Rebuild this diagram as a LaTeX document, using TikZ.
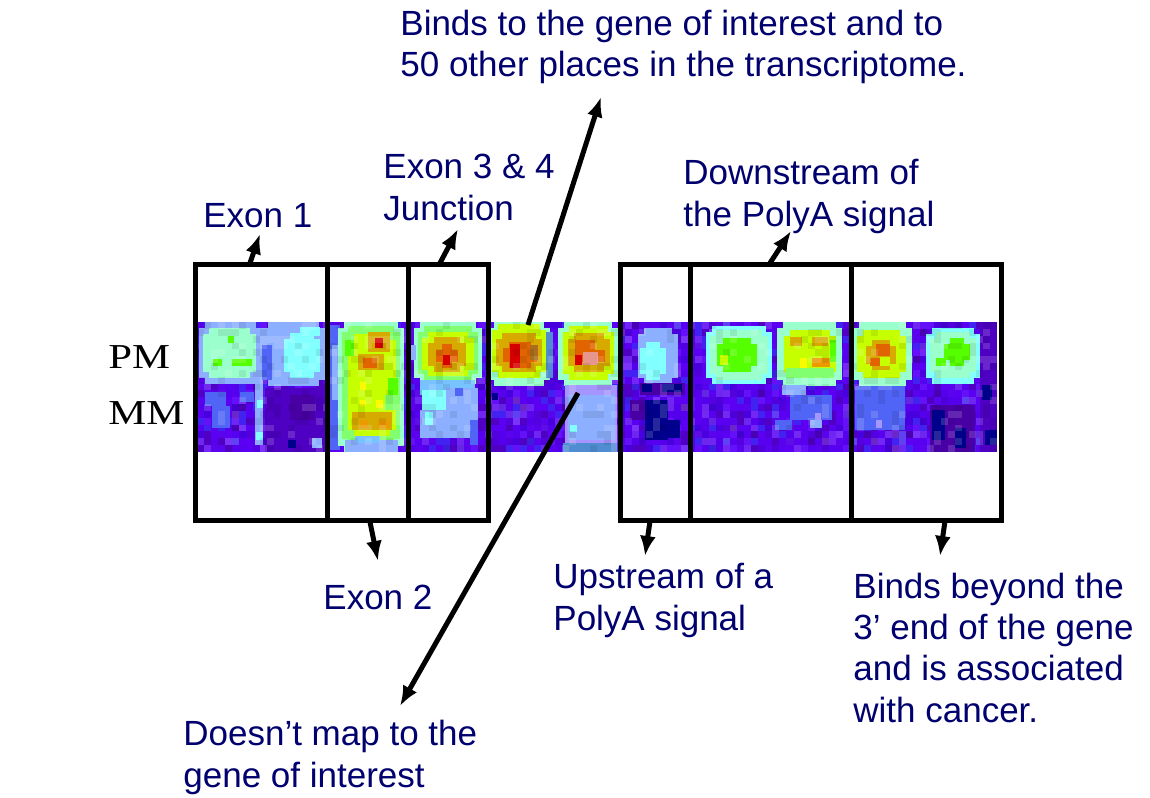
\documentclass[tikz,border=0pt]{standalone}
\usepackage{fontspec}
\setmainfont{Liberation Sans}
\newfontfamily\pmfont[FakeStretch=1.22]{Liberation Serif}
\usetikzlibrary{arrows.meta}
\definecolor{txt}{RGB}{0,0,110}
\definecolor{hc1}{RGB}{88,0,240}
\definecolor{hc2}{RGB}{88,0,240}
\definecolor{hc3}{RGB}{90,4,238}
\definecolor{hc4}{RGB}{84,0,236}
\definecolor{hc5}{RGB}{72,0,222}
\definecolor{hc6}{RGB}{100,16,248}
\definecolor{hc7}{RGB}{66,34,240}
\definecolor{hc8}{RGB}{80,0,195}
\definecolor{hc9}{RGB}{92,0,244}
\definecolor{vioD}{RGB}{78,0,195}
\definecolor{dkv}{RGB}{72,0,165}
\definecolor{navy}{RGB}{0,0,140}
\definecolor{mblue}{RGB}{80,100,245}
\definecolor{peri}{RGB}{140,175,255}
\definecolor{lblu}{RGB}{120,195,255}
\definecolor{lav}{RGB}{165,150,255}
\definecolor{cyn}{RGB}{130,255,255}
\definecolor{mint}{RGB}{155,255,205}
\definecolor{lgrn}{RGB}{130,255,110}
\definecolor{grn}{RGB}{85,255,0}
\definecolor{ygrn}{RGB}{198,255,0}
\definecolor{yel}{RGB}{250,250,0}
\definecolor{gold}{RGB}{215,170,0}
\definecolor{orng}{RGB}{225,100,0}
\definecolor{orng2}{RGB}{235,155,0}
\definecolor{hred}{RGB}{215,0,0}
\definecolor{olv}{RGB}{170,110,30}
\definecolor{pink}{RGB}{230,150,140}
\definecolor{stl}{RGB}{80,140,210}
\newcommand\hp[5]{\fill[#1] (#2,#3) rectangle (#4,#5);}
\newcommand\hblob[5]{\fill[#1] ({#2+6},#3) rectangle ({#4-6},#5);\fill[#1] (#2,{#3+6}) rectangle (#4,{#5-6});}
\tikzset{
  lbl/.style={anchor=base west, align=left, inner sep=0pt, text=txt,
    font=\fontsize{17.5}{20.6}\selectfont},
  pmlbl/.style={anchor=base west, inner sep=0pt, font=\pmfont\fontsize{17.5}{20}\selectfont},
  frame/.style={draw=black, line width=2.5pt},
  arr/.style={draw=black, line width=2.5pt, -{Latex[length=10pt,width=8pt]}},
}
\begin{document}
\begin{tikzpicture}[x=0.5pt,y=-0.5pt]
\useasboundingbox (0,0) rectangle (1150,797);
% ---------- heat map background noise ----------
\pgfmathsetseed{11}
\foreach \i in {0,...,113}{\foreach \j in {0,...,18}{%
  \pgfmathrandominteger{\r}{1}{9}%
  \fill[hc\r] ({197+\i*7.0175},{322+\j*6.8421}) rectangle ++(7.1,6.95);
}}
% ---------- spot A ----------
\hblob{peri}{199}{322}{262}{384}
\hblob{mint}{203}{328}{256}{378}
\hp{grn}{213}{359}{222}{366}
\hp{grn}{232}{359}{252}{366}
\hp{grn}{228}{336}{234}{343}
\hp{mblue}{205}{392}{226}{406}
\hp{mblue}{212}{406}{230}{428}
\hp{mblue}{240}{392}{254}{402}
\hp{peri}{255}{378}{263}{445}
\hp{cyn}{257}{400}{263}{408}
\hp{cyn}{256}{432}{263}{440}
% ---------- spot B ----------
\hblob{peri}{262}{322}{325}{386}
\hblob{cyn}{284}{333}{320}{378}
\hp{cyn}{300}{327}{320}{336}
\hp{mblue}{262}{345}{272}{380}
\hp{vioD}{265}{388}{325}{452}
\hp{dkv}{290}{395}{315}{420}
\hp{navy}{288}{440}{296}{448}
\hp{peri}{312}{438}{322}{448}
% ---------- exon 2 ----------
\hp{mblue}{329}{325}{340}{450}
\hp{peri}{332}{345}{340}{400}
\hblob{mint}{338}{322}{404}{452}
\hblob{lgrn}{342}{326}{400}{445}
\hblob{ygrn}{348}{334}{396}{436}
\hp{grn}{345}{340}{354}{356}
\hp{grn}{388}{378}{398}{395}
\hp{lgrn}{385}{395}{398}{410}
\hp{gold}{368}{332}{390}{352}
\hp{hred}{375}{338}{383}{348}
\hp{gold}{358}{354}{384}{370}
\hp{orng}{363}{358}{377}{368}
\hp{yel}{360}{382}{366}{390}
\hp{yel}{376}{400}{383}{408}
\hp{yel}{360}{400}{366}{406}
\hp{gold}{352}{412}{392}{430}
\hp{orng2}{360}{420}{368}{428}
\hp{orng2}{378}{420}{390}{428}
\hp{peri}{345}{440}{398}{452}
\hp{lblu}{355}{436}{380}{443}
% ---------- exon 3&4 ----------
\hblob{mint}{414}{322}{482}{384}
\hblob{lgrn}{418}{326}{478}{380}
\hblob{ygrn}{422}{332}{474}{376}
\hblob{gold}{428}{337}{466}{372}
\hblob{orng}{436}{344}{458}{368}
\hp{hred}{443}{355}{450}{365}
\hp{peri}{410}{345}{416}{360}
\hp{lblu}{420}{380}{475}{395}
\hp{cyn}{422}{390}{448}{410}
\hp{peri}{446}{388}{478}{420}
\hp{mblue}{455}{388}{463}{396}
\hp{peri}{420}{410}{470}{438}
\hp{cyn}{425}{412}{433}{425}
\hp{mblue}{470}{420}{478}{445}
% ---------- spot 5 ----------
\hblob{mint}{488}{322}{550}{386}
\hblob{ygrn}{492}{324}{546}{378}
\hblob{gold}{496}{333}{542}{372}
\hblob{orng}{503}{342}{537}{368}
\hp{hred}{510}{344}{520}{368}
\hp{olv}{530}{345}{538}{360}
\hp{stl}{546}{332}{553}{378}
\hp{navy}{492}{393}{498}{400}
% ---------- spot 6 ----------
\hblob{mint}{558}{322}{618}{386}
\hblob{ygrn}{563}{326}{614}{380}
\hblob{gold}{568}{333}{610}{372}
\hp{orng}{575}{340}{605}{362}
\hp{hred}{575}{355}{582}{365}
\hp{pink}{583}{352}{598}{365}
\hp{gold}{595}{340}{605}{350}
\hp{lav}{565}{385}{617}{445}
\hp{peri}{568}{395}{615}{440}
\hp{cyn}{570}{425}{577}{432}
\hp{stl}{563}{443}{617}{452}
% ---------- spot 7 ----------
\hblob{peri}{638}{328}{678}{384}
\hblob{cyn}{640}{342}{666}{380}
\hp{dkv}{640}{383}{685}{395}
\hp{navy}{642}{384}{652}{392}
\hp{navy}{662}{384}{682}{392}
\hp{navy}{645}{400}{668}{440}
\hp{navy}{668}{420}{680}{438}
\hp{dkv}{630}{400}{645}{420}
% ---------- spot 8 ----------
\hblob{cyn}{706}{326}{772}{384}
\hblob{mint}{710}{330}{768}{380}
\hblob{grn}{717}{338}{757}{372}
\hp{ygrn}{720}{355}{728}{365}
% ---------- spot 9 ----------
\hblob{mint}{777}{322}{842}{386}
\hblob{ygrn}{784}{330}{836}{378}
\hp{lgrn}{786}{368}{834}{378}
\hp{gold}{790}{337}{802}{346}
\hp{gold}{812}{337}{828}{346}
\hp{orng2}{812}{358}{830}{367}
\hp{yel}{800}{358}{807}{368}
\hp{grn}{830}{340}{836}{362}
\hp{peri}{782}{385}{806}{395}
\hp{mblue}{790}{395}{832}{420}
\hp{mblue}{775}{420}{792}{430}
\hp{peri}{810}{420}{822}{428}
\hp{lav}{815}{413}{821}{420}
% ---------- spot 10 ----------
\hblob{mint}{853}{322}{912}{386}
\hblob{ygrn}{857}{330}{906}{378}
\hblob{gold}{866}{340}{896}{370}
\hp{orng}{876}{344}{890}{356}
\hp{orng}{870}{358}{880}{366}
\hp{ygrn}{880}{357}{890}{366}
\hp{mblue}{855}{386}{905}{430}
\hp{lav}{876}{420}{882}{428}
% ---------- spot 11 ----------
\hblob{cyn}{926}{328}{980}{384}
\hblob{mint}{930}{332}{976}{378}
\hblob{grn}{944}{338}{970}{366}
\hp{grn}{936}{358}{946}{366}
\hp{vioD}{980}{322}{997}{452}
\hp{navy}{982}{385}{992}{400}
\hp{navy}{985}{430}{997}{445}
\hp{dkv}{930}{405}{975}{452}
\hp{navy}{932}{410}{945}{440}
\hp{navy}{955}{428}{966}{448}
% ---------- pixel texture over the whole map ----------
\pgfmathsetseed{5}
\foreach \i in {0,...,113}{\foreach \j in {0,...,18}{%
  \pgfmathrandominteger{\r}{1}{7}%
  \ifnum\r=1 \fill[white,opacity=0.15] ({197+\i*7.0175},{322+\j*6.8421}) rectangle ++(7.02,6.84);\fi
  \ifnum\r=2 \fill[black,opacity=0.08] ({197+\i*7.0175},{322+\j*6.8421}) rectangle ++(7.02,6.84);\fi
}}
% ---------- frames ----------
\draw[frame] (195.5,264) rectangle (488,520);
\draw[frame] (327,264) -- (327,520);
\draw[frame] (408,264) -- (408,520);
\draw[frame] (620,264) rectangle (1001,520);
\draw[frame] (690,264) -- (690,520);
\draw[frame] (851,264) -- (851,520);
% ---------- labels (base = baseline of the last line) ----------
\node[pmlbl] (pm) at (108,368) {PM};
\node[pmlbl] (mm) at (108,424) {MM};
\node[lbl] (binds) at (400,77) {Binds to the gene of interest and to\\50 other places in the transcriptome.};
\node[lbl] (e34) at (383,220) {Exon 3 \& 4\\Junction};
\node[lbl] (e1) at (203,227) {Exon 1};
\node[lbl] (down) at (683,226) {Downstream of\\the PolyA signal};
\node[lbl] (e2) at (323,609) {Exon 2};
\node[lbl] (up) at (553,630) {Upstream of a\\PolyA signal};
\node[lbl] (beyond) at (853,722) {Binds beyond the\\3’ end of the gene\\and is associated\\with cancer.};
\node[lbl] (doesnt) at (183,787) {Doesn’t map to the\\gene of interest};
% ---------- arrows ----------
\coordinate (a1s) at (250,263); \coordinate (a1t) at (260,234);
\coordinate (a2s) at (440,263); \coordinate (a2t) at (458,229);
\coordinate (a3s) at (370,522); \coordinate (a3t) at (378,561);
\coordinate (a4s) at (578,393); \coordinate (a4t) at (400,706);
\coordinate (a5s) at (528,325); \coordinate (a5t) at (601,97);
\coordinate (a6s) at (650,521); \coordinate (a6t) at (645,556);
\coordinate (a7s) at (770,263); \coordinate (a7t) at (791,231);
\coordinate (a8s) at (945,521); \coordinate (a8t) at (940,556);
\draw[arr] (a1s) -- (a1t);
\draw[arr] (a2s) -- (a2t);
\draw[arr] (a3s) -- (a3t);
\draw[arr] (a4s) -- (a4t);
\draw[arr] (a5s) -- (a5t);
\draw[arr] (a6s) -- (a6t);
\draw[arr] (a7s) -- (a7t);
\draw[arr] (a8s) -- (a8t);
\end{tikzpicture}
\end{document}
